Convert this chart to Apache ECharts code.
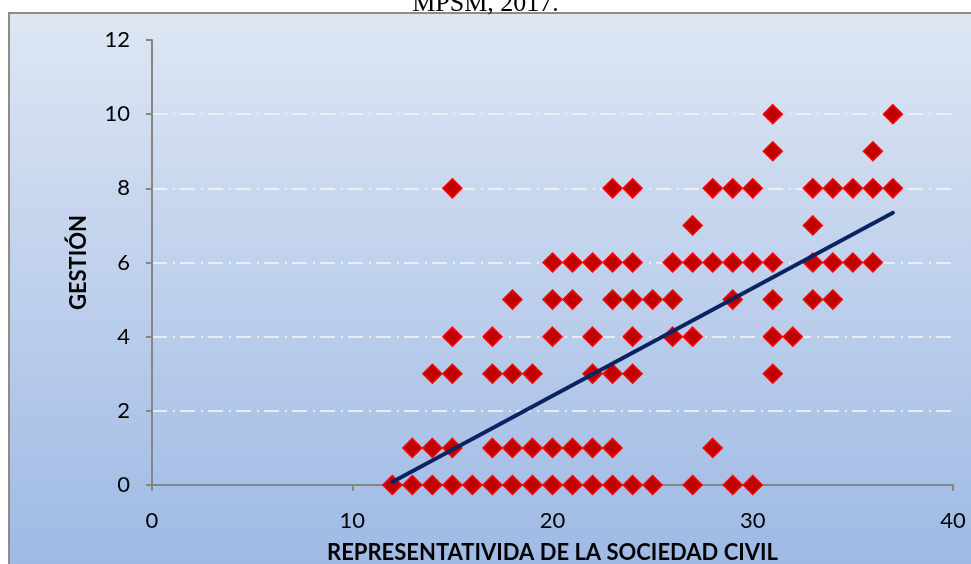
<!DOCTYPE html>
<html>
<head>
<meta charset="utf-8">
<script src="https://cdn.jsdelivr.net/npm/echarts@6/dist/echarts.min.js"></script>
<style>
    html, body { margin: 0; padding: 0; background: #fff; }
    #chart { width: 971px; height: 564px; }
</style>
</head>
<body>
<div id="chart"></div>
<script>
// puntos: [representatividad, gestion]
const gestion0 = [12, 13, 14, 15, 16, 17, 18, 19, 20, 21, 22, 23, 24, 25, 27, 29, 30]
const gestion1 = [13, 14, 15, 17, 18, 19, 20, 21, 22, 23, 28]
const gestion3 = [14, 15, 17, 18, 19, 22, 23, 24, 31]
const gestion4 = [15, 17, 20, 22, 24, 26, 27, 31, 32]
const gestion5 = [18, 20, 21, 23, 24, 25, 26, 29, 31, 33, 34]
const gestion6 = [20, 21, 22, 23, 24, 26, 27, 28, 29, 30, 31, 33, 34, 35, 36]
const gestion7 = [27, 33]
const gestion8 = [15, 23, 24, 28, 29, 30, 33, 34, 35, 36, 37]
const gestion9 = [31, 36]
const gestion10 = [31, 37]

// linea de tendencia (extremos)
const trendLine = [[12, 0.08], [37, 7.34]]

const xTicks = [0, 40, 10]
const yTicks = [0, 12, 2]

let rows = [
    [0, gestion0], [1, gestion1], [3, gestion3], [4, gestion4], [5, gestion5],
    [6, gestion6], [7, gestion7], [8, gestion8], [9, gestion9], [10, gestion10]
]
let points = []
rows.forEach(([y, xs]) => {
    xs.forEach(x => points.push([x, y]))
})

let chart = echarts.init(document.getElementById('chart'))

const labelFont = 'Lato, "Open Sans", sans-serif'

chart.setOption({
    animation: false,
    graphic: [
        {
            type: 'rect',
            z: -10,
            shape: { x: 9, y: 13, width: 980, height: 570 },
            style: {
                fill: {
                    type: 'linear', x: 0, y: 0, x2: 0, y2: 1,
                    colorStops: [
                        { offset: 0, color: '#DEE6F3' },
                        { offset: 1, color: '#9CB8E4' }
                    ]
                },
                stroke: '#8C8C8C',
                lineWidth: 2
            }
        },
        {
            type: 'text',
            left: 'center',
            top: -9,
            style: {
                text: 'MPSM, 2017.',
                font: '26px "Liberation Serif", "Times New Roman", serif',
                fill: '#000'
            }
        }
    ],
    grid: {
        left: 152,
        right: 18,
        top: 40,
        bottom: 79,
        outerBoundsMode: 'none'
    },
    xAxis: {
        type: 'value',
        min: xTicks[0],
        max: xTicks[1],
        interval: xTicks[2],
        name: 'REPRESENTATIVIDA DE LA SOCIEDAD CIVIL',
        nameLocation: 'middle',
        nameGap: 57,
        nameTextStyle: {
            fontFamily: labelFont,
            fontWeight: 'bold',
            fontSize: 22,
            color: '#000'
        },
        axisLine: { lineStyle: { color: '#868686', width: 2 } },
        axisTick: { show: true, length: 6, lineStyle: { color: '#868686', width: 2 } },
        axisLabel: {
            fontFamily: labelFont,
            fontSize: 22,
            color: '#000',
            margin: 25
        },
        splitLine: { show: false }
    },
    yAxis: {
        type: 'value',
        min: yTicks[0],
        max: yTicks[1],
        interval: yTicks[2],
        name: 'GESTIÓN',
        nameLocation: 'middle',
        nameGap: 62,
        nameTextStyle: {
            fontFamily: labelFont,
            fontWeight: 'bold',
            fontSize: 22,
            color: '#000'
        },
        axisLine: { show: true, lineStyle: { color: '#868686', width: 2 } },
        axisTick: { show: true, length: 6, lineStyle: { color: '#868686', width: 2 } },
        axisLabel: {
            fontFamily: labelFont,
            fontSize: 22,
            color: '#000',
            margin: 22
        },
        splitLine: {
            show: true,
            showMinLine: false,
            showMaxLine: false,
            lineStyle: {
                color: 'rgba(238, 242, 248, 0.85)',
                width: 2,
                type: [15, 6, 2, 5]
            }
        }
    },
    series: [
        {
            type: 'scatter',
            data: points,
            symbol: 'diamond',
            symbolSize: [19, 19],
            itemStyle: {
                color: '#C00000',
                borderColor: '#FF0000',
                borderWidth: 1.5,
                opacity: 1
            },
            z: 3
        },
        {
            type: 'line',
            data: trendLine,
            symbol: 'none',
            lineStyle: { color: '#0A2463', width: 4, cap: 'round' },
            z: 4
        }
    ]
})
</script>
</body>
</html>
